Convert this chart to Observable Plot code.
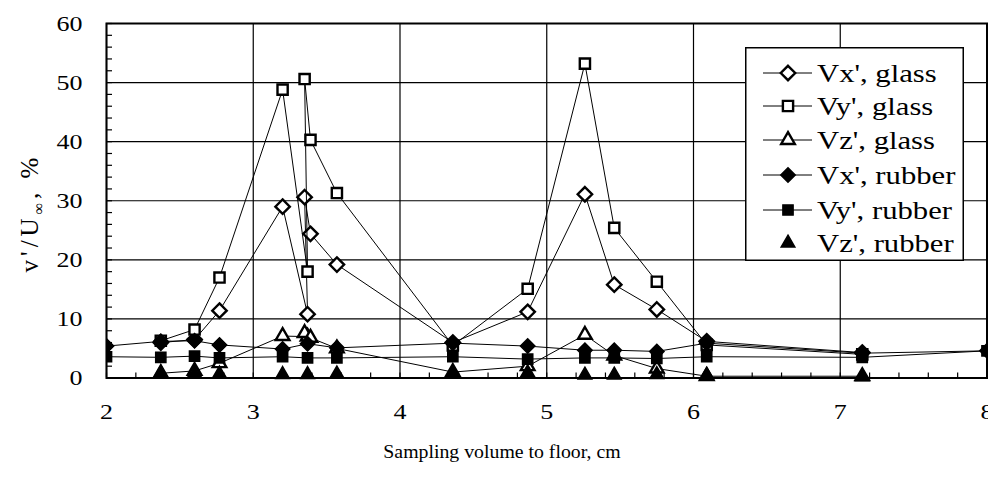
<!DOCTYPE html>
<html><head><meta charset="utf-8">
<script src="https://cdn.jsdelivr.net/npm/d3@7"></script>
<script src="https://cdn.jsdelivr.net/npm/@observablehq/plot@0.6"></script>
<style>
html,body{margin:0;padding:0;overflow:hidden;background:#fff;}
#wrap{position:relative;width:988px;height:491px;overflow:hidden;}
#chart svg{display:block;overflow:hidden;}
.lab{position:absolute;font-family:'Liberation Serif','Times New Roman',Times,serif;color:#000;white-space:nowrap;line-height:28px;}
#legend{position:absolute;left:745px;top:47px;}
svg text{font-family:'Liberation Serif','Times New Roman',Times,serif;}
</style></head><body>
<div id="wrap">
<div id="chart"></div>
<div class="lab" id="xlab" style="left:502px;top:438px;font-size:18px;transform:translateX(-50%) scaleX(1.1);">Sampling volume to floor, cm</div>
<div class="lab" id="ylab" style="left:34px;top:213px;font-size:25px;letter-spacing:4px;transform:translate(-50%,-50%) rotate(-90deg);">v'/U<sub style="font-size:16px;">∞</sub>, %</div>
<svg id="legend" width="219" height="214"></svg>
</div>
<script>
// ---- data ----
const xGlass   = [2.37, 2.60, 2.77, 3.20, 3.37, 3.35, 3.39, 3.57, 4.36, 4.87, 5.26, 5.46, 5.75, 6.09, 7.15];
const vxGlass  = [6.0, 6.5, 11.4, 29.0, 10.8, 30.6, 24.4, 19.2, 6.0, 11.2, 31.1, 15.8, 11.6, 6.2, 4.3];
const vyGlass  = [6.3, 8.2, 17.0, 48.8, 18.0, 50.6, 40.3, 31.3, 5.5, 15.1, 53.2, 25.4, 16.3, 5.6, 4.0];
const vzGlass  = [0.8, 1.2, 2.5, 7.1, 7.0, 7.6, 6.8, 5.0, 1.0, 2.0, 7.3, 3.8, 1.6, 0.3, 0.3];

const xRubber  = [2.0, 2.37, 2.60, 2.77, 3.20, 3.37, 3.57, 4.36, 4.87, 5.26, 5.46, 5.75, 6.09, 7.15, 8.0];
const vxRubber = [5.4, 6.2, 6.3, 5.6, 4.9, 5.8, 5.1, 5.9, 5.4, 4.7, 4.7, 4.5, 5.9, 4.2, 4.6];
const vyRubber = [3.6, 3.5, 3.7, 3.4, 3.6, 3.4, 3.4, 3.6, 3.2, 3.4, 3.4, 3.3, 3.6, 3.5, 4.6];

const xRubberZ = [2.37, 2.60, 2.77, 3.20, 3.37, 3.57, 4.36, 4.87, 5.26, 5.46, 5.75, 6.09, 7.15];
const vzRubber = [0.8, 0.8, 0.7, 0.6, 0.6, 0.7, 0.7, 0.9, 0.5, 0.5, 0.6, 0.5, 0.2];

const xTicks = [2, 3, 4, 5, 6, 7, 8];
const yTicks = [0, 10, 20, 30, 40, 50, 60];
const seriesNames = ["Vx', glass", "Vy', glass", "Vz', glass", "Vx', rubber", "Vy', rubber", "Vz', rubber"];

// ---- tables ----
const glass = xGlass.map((x, i) => ({x, vx: vxGlass[i], vy: vyGlass[i], vz: vzGlass[i]}));
const rubber = xRubber.map((x, i) => ({x, vx: vxRubber[i], vy: vyRubber[i]}));
const rubberZ = xRubberZ.map((x, i) => ({x, vz: vzRubber[i]}));

const FONT = "'Liberation Serif','Times New Roman',Times,serif";
const W = 988, H = 491, ML = 106, MR = 1.5, MT = 23, MB = 113.5;
const STRETCH = 1.18;   // the reference's text is drawn wider than tall
const R = 6.5;
const openStyle = {fill: "white", stroke: "black", strokeWidth: 2.4, r: R};
const fillStyle = {fill: "black", stroke: "black", strokeWidth: 1.5, r: R};
const lineStyle = {stroke: "black", strokeWidth: 1};

const minorX = d3.range(10, 41).map(d => d / 5);
const minorY = d3.range(0, 61, 2);

const chart = Plot.plot({
  width: W, height: H,
  marginLeft: ML, marginRight: MR, marginTop: MT, marginBottom: MB,
  style: {fontFamily: FONT, background: "white"},
  x: {domain: [2, 8]},
  y: {domain: [0, 60]},
  marks: [
    Plot.gridX(xTicks, {stroke: "black", strokeOpacity: 1, strokeWidth: 1.2}),
    Plot.gridY(yTicks, {stroke: "black", strokeOpacity: 1, strokeWidth: 1.2}),
    // inward minor ticks
    Plot.axisY(minorY, {tickSize: 6, dx: 6, tickFormat: () => "", label: null, stroke: "black", strokeWidth: 1.2}),
    Plot.axisX(minorX, {tickSize: 5, dy: -5, tickFormat: () => "", label: null, stroke: "black", strokeWidth: 1.2}),
    Plot.axisY(yTicks, {tickSize: 0, tickPadding: 24, fontSize: 22, label: null, fill: "black", tickFormat: d3.format("d")}),
    Plot.axisX(xTicks, {tickSize: 0, tickPadding: 25, fontSize: 22, label: null, fill: "black", tickFormat: d3.format("d")}),
    // glass series
    Plot.line(glass, {x: "x", y: "vx", ...lineStyle}),
    Plot.dot(glass, {x: "x", y: "vx", symbol: "diamond2", ...openStyle}),
    Plot.line(glass, {x: "x", y: "vy", ...lineStyle}),
    Plot.dot(glass, {x: "x", y: "vy", symbol: "square2", ...openStyle}),
    Plot.line(glass, {x: "x", y: "vz", ...lineStyle}),
    Plot.dot(glass, {x: "x", y: "vz", symbol: "triangle2", ...openStyle}),
    // rubber series
    Plot.line(rubber, {x: "x", y: "vx", ...lineStyle, clip: true}),
    Plot.dot(rubber, {x: "x", y: "vx", symbol: "diamond2", ...fillStyle, clip: true}),
    Plot.line(rubber, {x: "x", y: "vy", ...lineStyle, clip: true}),
    Plot.dot(rubber, {x: "x", y: "vy", symbol: "square2", ...fillStyle, clip: true}),
    Plot.dot(rubberZ, {x: "x", y: "vz", symbol: "triangle2", ...fillStyle}),
    Plot.frame({stroke: "black", strokeWidth: 2})
  ]
});
document.getElementById("chart").appendChild(chart);

function stretch(el, k) {
  const L = el.getComputedTextLength();
  if (L > 0) {
    el.setAttribute("textLength", (L * k).toFixed(1));
    el.setAttribute("lengthAdjust", "spacingAndGlyphs");
  }
}
chart.querySelectorAll("text").forEach(t => stretch(t, STRETCH));

// ---- legend ----
const lg = d3.select("#legend");
lg.append("rect").attr("x", 0.75).attr("y", 0.75).attr("width", 217.5).attr("height", 212.5)
  .attr("fill", "white").attr("stroke", "black").attr("stroke-width", 1.5);
const symSize = Math.PI * R * R;
const legendSyms = [
  {s: d3.symbolDiamond2, open: true, line: true},
  {s: d3.symbolSquare2, open: true, line: true},
  {s: d3.symbolTriangle2, open: true, line: true},
  {s: d3.symbolDiamond2, open: false, line: true},
  {s: d3.symbolSquare2, open: false, line: true},
  {s: d3.symbolTriangle2, open: false, line: false}
];
const rowY = [26, 59, 93, 128, 163, 196];
seriesNames.forEach((name, i) => {
  const y = rowY[i], L = legendSyms[i];
  const g = lg.append("g");
  if (L.line) g.append("line").attr("x1", 18).attr("x2", 67).attr("y1", y).attr("y2", y)
      .attr("stroke", "black").attr("stroke-width", 1);
  g.append("path").attr("d", d3.symbol(L.s, symSize)()).attr("transform", `translate(43,${y})`)
    .attr("fill", L.open ? "white" : "black").attr("stroke", "black")
    .attr("stroke-width", L.open ? 2.4 : 1.5);
  const t = g.append("text").attr("x", 72).attr("y", y + 8.5).style("font-size", "26px")
    .attr("fill", "black").text(name);
  stretch(t.node(), STRETCH);
});
</script>
</body></html>
